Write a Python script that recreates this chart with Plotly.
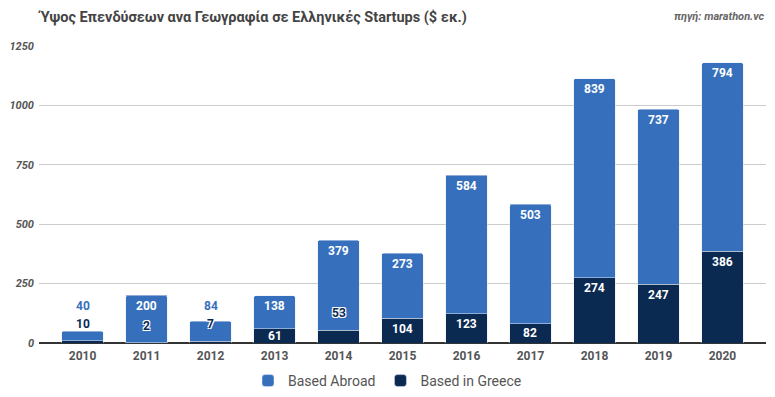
import plotly.graph_objects as go

years = ["2010", "2011", "2012", "2013", "2014", "2015", "2016", "2017", "2018", "2019", "2020"]
based_greece = [10, 2, 7, 61, 53, 104, 123, 82, 274, 247, 386]
based_abroad = [40, 200, 84, 138, 379, 273, 584, 503, 839, 737, 794]
y_ticks = [0, 250, 500, 750, 1000, 1250]

C_ABROAD = "#3670bd"
C_GREECE = "#0b2a52"

W, H = 775, 397
OFF = 8  # page body offset
# target plot area in window pixels: x 39..766, y 46..343
M_L = 39 - OFF
M_T = 46 - OFF
M_R = W - (766 - OFF)
M_B = H - (343 - OFF)
plot_w = W - M_L - M_R
plot_h = H - M_T - M_B
Y_MAX = 1250
k = plot_h / Y_MAX  # px per unit

fig = go.Figure()
fig.add_trace(go.Bar(x=years, y=based_greece, name="Based in Greece",
                     marker_color=C_GREECE, width=0.65, hoverinfo="skip"))
fig.add_trace(go.Bar(x=years, y=based_abroad, name="Based Abroad",
                     marker_color=C_ABROAD, width=0.65, hoverinfo="skip"))

ann = []
num_font = dict(family="Roboto", size=12, color="white", weight="bold")
halo = "1px 1px 0 #fff, -1px -1px 0 #fff, 1px -1px 0 #fff, -1px 1px 0 #fff"
for i, (g, a) in enumerate(zip(based_greece, based_abroad)):
    g_px = g * k
    tot_px = (g + a) * k
    # Greece label
    if g >= 57:
        off = min(10.5, g_px / 2)
        ann.append(dict(x=i, y=(g_px - off) / k, text=str(g), showarrow=False,
                        yanchor="middle", font=num_font))
        g_out_center = None
    else:
        g_out_center = g_px + 17
        ann.append(dict(x=i, y=g_out_center / k, text=str(g), showarrow=False,
                        yanchor="middle",
                        font=dict(family="Roboto", size=12, color=C_GREECE, weight="bold",
                                  shadow=halo)))
    # Abroad label
    if a >= 100:
        ann.append(dict(x=i, y=(tot_px - 10.5) / k, text=str(a), showarrow=False,
                        yanchor="middle", font=num_font))
    else:
        c = tot_px + 15.6
        if g_out_center is not None:
            c = max(c, g_out_center + 17.5)
        ann.append(dict(x=i, y=c / k, text=str(a), showarrow=False, yanchor="middle",
                        font=dict(family="Roboto", size=12, color=C_ABROAD, weight="bold")))

ann.append(dict(xref="paper", yref="paper", x=(767 - OFF - M_L) / plot_w,
                y=(M_T + plot_h - (16 - OFF)) / plot_h,
                xanchor="right", yanchor="middle", showarrow=False,
                text="<b><i>πηγή: marathon.vc</i></b>",
                font=dict(family="Roboto", size=11, color="#666")))

fig.update_layout(
    width=W, height=H,
    margin=dict(l=M_L, r=M_R, t=M_T, b=M_B, pad=0, autoexpand=False),
    barmode="stack",
    barcornerradius=2,
    plot_bgcolor="white", paper_bgcolor="white",
    title=dict(text="<b>Ύψος Επενδύσεων ανα Γεωγραφία σε Ελληνικές Startups ($ εκ.)</b>",
               x=(40 - OFF) / W, xanchor="left", xref="container",
               y=1 - (17 - OFF) / H, yanchor="middle", yref="container",
               font=dict(family="Roboto", size=14.5, color="#444")),
    xaxis=dict(type="category", range=[-0.68, 10.68], showgrid=False, showline=False,
               zeroline=False, tickangle=0,
               tickfont=dict(family="Roboto", size=12, color="#555", weight="bold"),
               ticks="", ticklabelstandoff=4),
    yaxis=dict(range=[0, Y_MAX], tickvals=y_ticks, showgrid=True, gridcolor="#cccccc",
               gridwidth=1, zeroline=True, zerolinecolor="#333", zerolinewidth=1.5,
               tickfont=dict(family="Roboto", size=11, color="#555", weight="bold",
                             style="italic"),
               ticks="", ticklabelstandoff=4),
    legend=dict(orientation="h", x=(387.5 - OFF - M_L) / plot_w, xanchor="center",
                y=(M_T + plot_h - (381 - OFF)) / plot_h, yanchor="middle",
                traceorder="reversed",
                font=dict(family="Roboto", size=14, color="#555")),
    annotations=ann,
    showlegend=True,
)

fig.write_html("out.html")
